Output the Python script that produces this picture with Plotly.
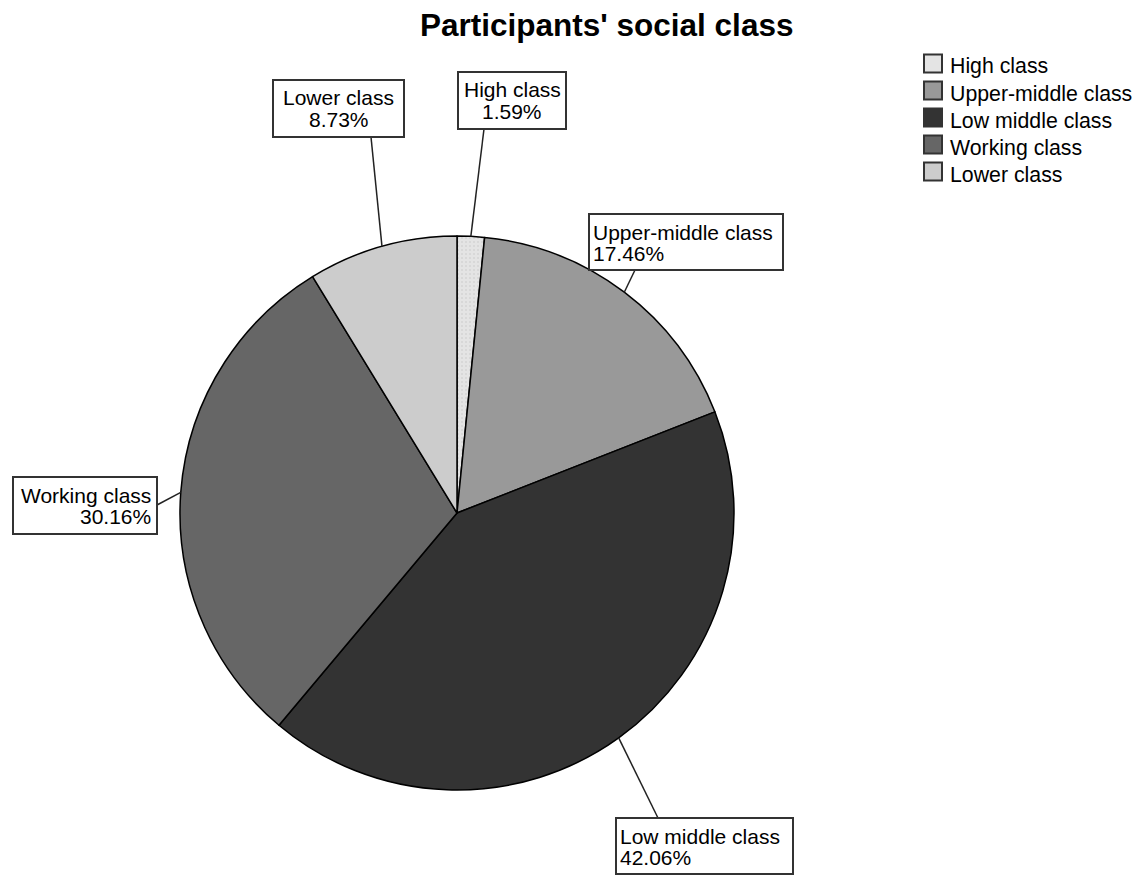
import math
import plotly.graph_objects as go

# Social class shares (percent), clockwise from 12 o'clock
categories = ["High class", "Upper-middle class", "Low middle class", "Working class", "Lower class"]
percent = [1.59, 17.46, 42.06, 30.16, 8.73]
colors = ["#e4e4e4", "#999999", "#333333", "#666666", "#cccccc"]
patterns = [".", "", "", "", ""]

W, H = 1147, 876
FONT = "Liberation Sans, Arial, sans-serif"

# Pie geometry in pixels (centre and radius)
CX, CY, R = 457, 513, 277

# Label boxes: (x0, y0, x1, y1) px, text alignment, leader-line anchor on box
label_layout = {
    "High class": ((458, 72, 566, 129), "center", (484, 129)),
    "Upper-middle class": ((589, 214, 783, 270), "left", (635, 270)),
    "Low middle class": ((616, 818, 793, 874), "left", (658, 818)),
    "Working class": ((13, 477, 157, 534), "right", (157, 505)),
    "Lower class": ((273, 80, 404, 137), "center", (371, 137)),
}


def px(x):
    return x / W


def py(y):
    return 1 - y / H


fig = go.Figure()
fig.add_trace(go.Pie(
    labels=categories,
    values=percent,
    sort=False,
    direction="clockwise",
    rotation=0,
    textinfo="none",
    hoverinfo="label+percent",
    showlegend=False,
    marker=dict(
        colors=colors,
        line=dict(color="#000000", width=1.5),
        pattern=dict(shape=patterns, fillmode="overlay", fgcolor="#c6c6c6", size=4, solidity=0.2),
    ),
    domain=dict(x=[px(CX - R), px(CX + R)], y=[py(CY + R), py(CY - R)]),
))

shapes = []
annotations = []

total = sum(percent)
cum = 0.0
for name, val in zip(categories, percent):
    mid = (cum + val / 2) / total * 2 * math.pi
    cum += val
    ex = CX + R * math.sin(mid)
    ey = CY - R * math.cos(mid)
    (x0, y0, x1, y1), align, (ax, ay) = label_layout[name]
    # leader line from slice edge to label box
    shapes.append(dict(type="line", xref="paper", yref="paper",
                       x0=px(ex), y0=py(ey), x1=px(ax), y1=py(ay),
                       line=dict(color="#222222", width=1.5)))
    shapes.append(dict(type="rect", xref="paper", yref="paper",
                       x0=px(x0), y0=py(y1), x1=px(x1), y1=py(y0),
                       fillcolor="white", line=dict(color="#333333", width=2)))
    if align == "center":
        tx, xa = (x0 + x1) / 2, "center"
    elif align == "left":
        tx, xa = x0 + 2, "left"
    else:
        tx, xa = x1 - 4, "right"
    for text, off in ((name, 18), (f"{val:.2f}%", 39.5)):
        annotations.append(dict(xref="paper", yref="paper", x=px(tx), y=py(y0 + off),
                                xanchor=xa, yanchor="middle", text=text, showarrow=False,
                                font=dict(family=FONT, size=21, color="#000000")))

# Legend
LEG_X, LEG_Y0, LEG_DY, SQ = 933, 63.5, 27, 18
for i, (name, col) in enumerate(zip(categories, colors)):
    cy = LEG_Y0 + i * LEG_DY
    shapes.append(dict(type="rect", xref="paper", yref="paper",
                       x0=px(LEG_X - SQ / 2), y0=py(cy + SQ / 2),
                       x1=px(LEG_X + SQ / 2), y1=py(cy - SQ / 2),
                       fillcolor=col, line=dict(color="#333333", width=2)))
    annotations.append(dict(xref="paper", yref="paper", x=px(948), y=py(cy + 3),
                            xanchor="left", yanchor="middle", text=name, showarrow=False,
                            font=dict(family=FONT, size=21.3, color="#000000")))

# Title
annotations.append(dict(xref="paper", yref="paper", x=px(606), y=py(25),
                        xanchor="center", yanchor="middle",
                        text="<b>Participants' social class</b>", showarrow=False,
                        font=dict(family=FONT, size=31.5, color="#000000")))

fig.update_layout(
    width=W, height=H,
    margin=dict(l=0, r=0, t=0, b=0),
    paper_bgcolor="white", plot_bgcolor="white",
    shapes=shapes, annotations=annotations,
)

fig.write_html("out.html")
